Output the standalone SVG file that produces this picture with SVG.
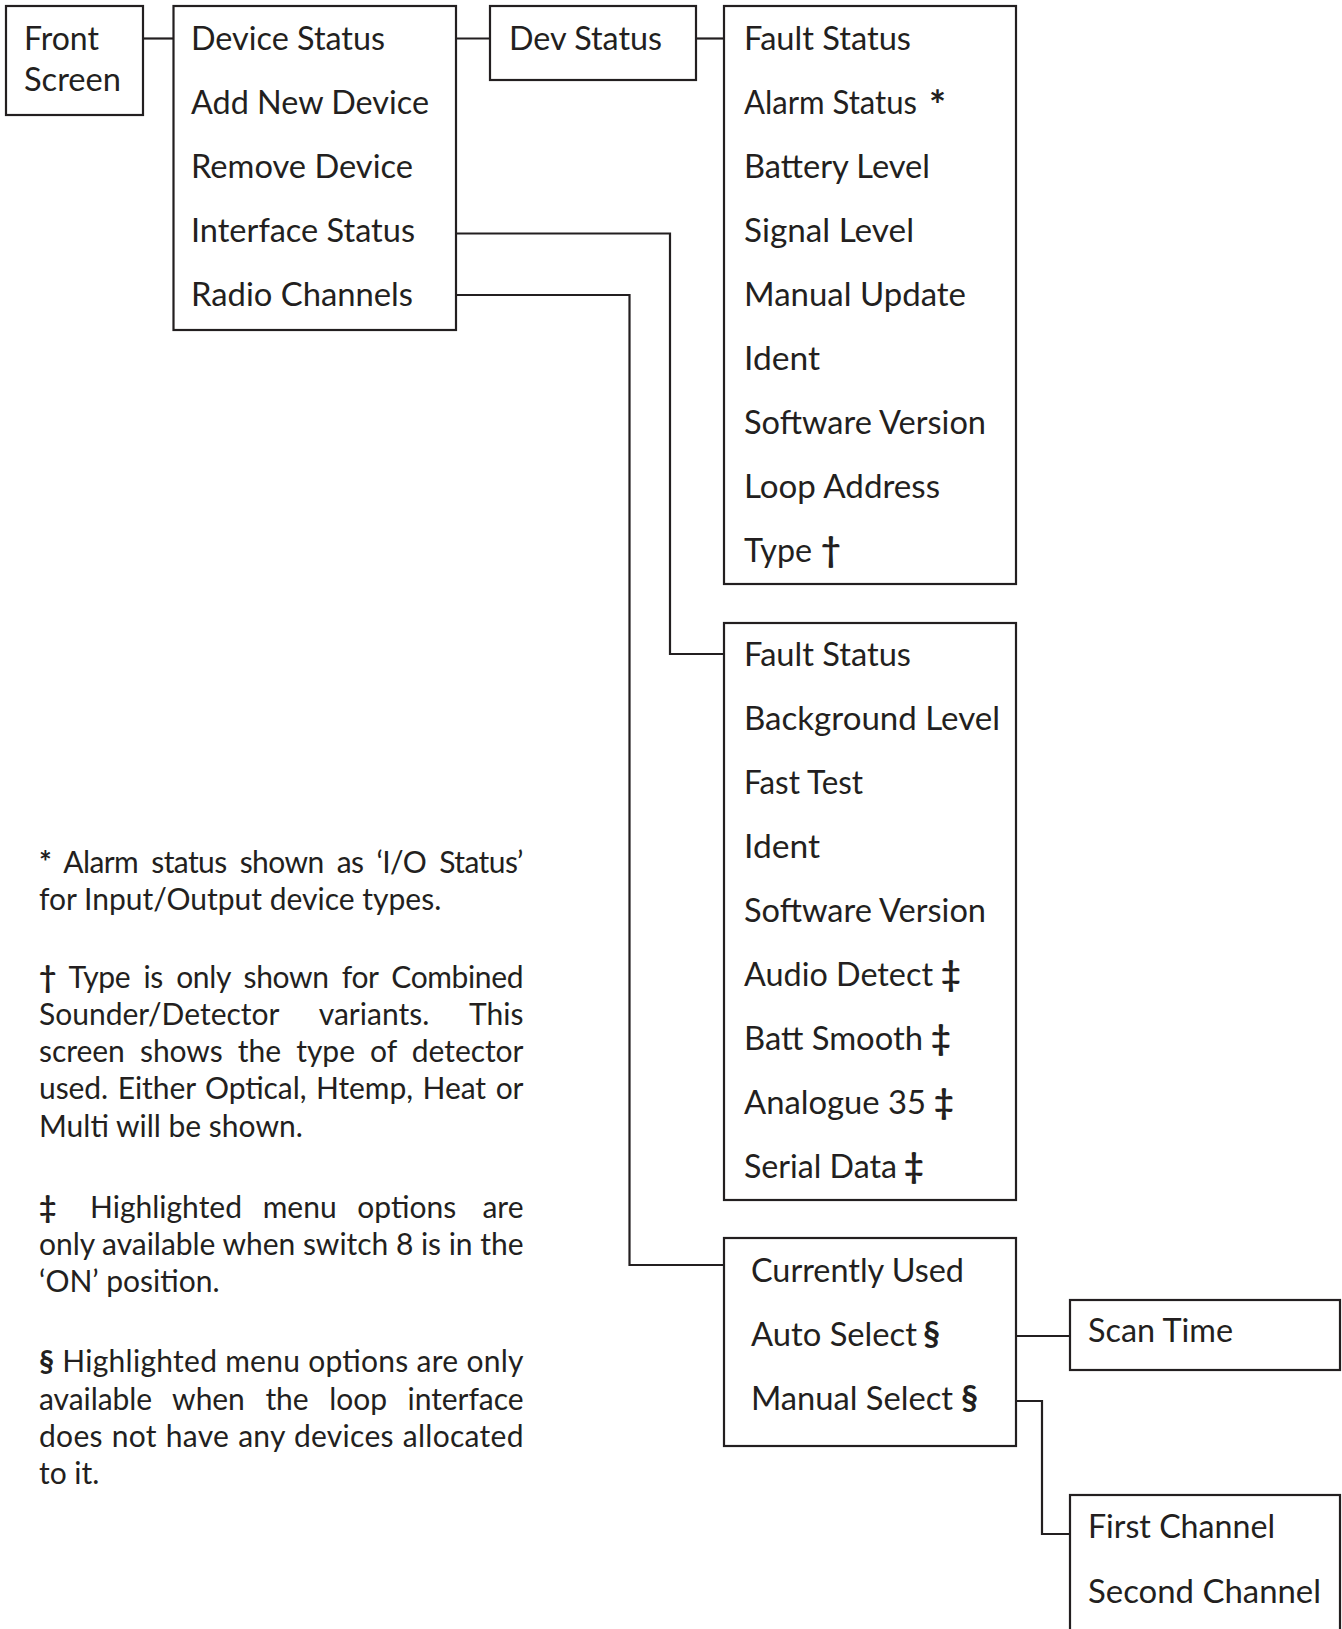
<svg xmlns="http://www.w3.org/2000/svg" width="1342" height="1629" viewBox="0 0 1342 1629">
<style>
.box{fill:#fff;stroke:#231f20;stroke-width:2.2}
.ln{fill:none;stroke:#231f20;stroke-width:2.2}
text{font-family:Lato,"Open Sans","Liberation Sans",sans-serif;fill:#231f20}
.t{font-size:33px}
.c{font-size:33px}
.s{font-size:34px;font-weight:bold}
.n{font-size:30px}
.b{font-weight:bold}
.e{text-anchor:end}
</style>
<rect width="1342" height="1629" fill="#fff"/>
<g id="connectors">
<path class="ln" d="M143 38.5H173.5"/>
<path class="ln" d="M456 38.5H490"/>
<path class="ln" d="M696 38.5H724"/>
<path class="ln" d="M456 233.5H670V654H724"/>
<path class="ln" d="M456 295H629.5V1265H724"/>
<path class="ln" d="M1016 1336H1070"/>
<path class="ln" d="M1016 1401H1042V1534H1070"/>
</g>
<g id="front-screen">
<rect class="box" x="6" y="6" width="137" height="109"/>
<text class="c" x="24" y="50" textLength="75" lengthAdjust="spacingAndGlyphs">Front</text>
<text class="c" x="24" y="91" textLength="97" lengthAdjust="spacingAndGlyphs">Screen</text>
</g>
<g id="main-menu">
<rect class="box" x="173.5" y="6" width="282.5" height="324"/>
<text class="c" x="191" y="50" textLength="194" lengthAdjust="spacingAndGlyphs">Device Status</text>
<text class="c" x="191" y="114" textLength="238" lengthAdjust="spacingAndGlyphs">Add New Device</text>
<text class="c" x="191" y="178" textLength="222" lengthAdjust="spacingAndGlyphs">Remove Device</text>
<text class="c" x="191" y="242" textLength="224" lengthAdjust="spacingAndGlyphs">Interface Status</text>
<text class="c" x="191" y="306" textLength="222" lengthAdjust="spacingAndGlyphs">Radio Channels</text>
</g>
<g id="dev-status">
<rect class="box" x="490" y="6" width="206" height="74"/>
<text class="c" x="509" y="50" textLength="153" lengthAdjust="spacingAndGlyphs">Dev Status</text>
</g>
<g id="dev-status-menu">
<rect class="box" x="724" y="6" width="292" height="578"/>
<text class="t" x="744" y="50" textLength="167" lengthAdjust="spacingAndGlyphs">Fault Status</text>
<text class="t" x="744" y="114" textLength="173" lengthAdjust="spacingAndGlyphs">Alarm Status</text>
<text class="s" x="929" y="120" style="font-size:40px">*</text>
<text class="t" x="744" y="178" textLength="186" lengthAdjust="spacingAndGlyphs">Battery Level</text>
<text class="t" x="744" y="242" textLength="170" lengthAdjust="spacingAndGlyphs">Signal Level</text>
<text class="t" x="744" y="306" textLength="222" lengthAdjust="spacingAndGlyphs">Manual Update</text>
<text class="t" x="744" y="370" textLength="76" lengthAdjust="spacingAndGlyphs">Ident</text>
<text class="t" x="744" y="434" textLength="242" lengthAdjust="spacingAndGlyphs">Software Version</text>
<text class="t" x="744" y="498" textLength="196" lengthAdjust="spacingAndGlyphs">Loop Address</text>
<text class="t" x="744" y="562" textLength="68" lengthAdjust="spacingAndGlyphs">Type</text>
<text class="s" x="821" y="562">†</text>
</g>
<g id="interface-status-menu">
<rect class="box" x="724" y="623" width="292" height="577"/>
<text class="t" x="744" y="666" textLength="167" lengthAdjust="spacingAndGlyphs">Fault Status</text>
<text class="t" x="744" y="730" textLength="256" lengthAdjust="spacingAndGlyphs">Background Level</text>
<text class="t" x="744" y="794" textLength="119" lengthAdjust="spacingAndGlyphs">Fast Test</text>
<text class="t" x="744" y="858" textLength="76" lengthAdjust="spacingAndGlyphs">Ident</text>
<text class="t" x="744" y="922" textLength="242" lengthAdjust="spacingAndGlyphs">Software Version</text>
<text class="t" x="744" y="986" textLength="189" lengthAdjust="spacingAndGlyphs">Audio Detect</text>
<text class="s" x="941" y="986">‡</text>
<text class="t" x="744" y="1050" textLength="179" lengthAdjust="spacingAndGlyphs">Batt Smooth</text>
<text class="s" x="931" y="1050">‡</text>
<text class="t" x="744" y="1114" textLength="182" lengthAdjust="spacingAndGlyphs">Analogue 35</text>
<text class="s" x="934" y="1114">‡</text>
<text class="t" x="744" y="1178" textLength="153" lengthAdjust="spacingAndGlyphs">Serial Data</text>
<text class="s" x="904" y="1178">‡</text>
</g>
<g id="radio-channels-menu">
<rect class="box" x="724" y="1238" width="292" height="208"/>
<text class="c" x="751" y="1282" textLength="213" lengthAdjust="spacingAndGlyphs">Currently Used</text>
<text class="c" x="751" y="1346" textLength="166" lengthAdjust="spacingAndGlyphs">Auto Select</text>
<text class="s" x="923" y="1346">§</text>
<text class="c" x="751" y="1410" textLength="202" lengthAdjust="spacingAndGlyphs">Manual Select</text>
<text class="s" x="961" y="1410">§</text>
</g>
<g id="scan-time">
<rect class="box" x="1070" y="1300" width="270" height="70"/>
<text class="c" x="1088" y="1342" textLength="145" lengthAdjust="spacingAndGlyphs">Scan Time</text>
</g>
<g id="channel-select">
<rect class="box" x="1070" y="1495" width="270" height="150"/>
<text class="c" x="1088" y="1538" textLength="187" lengthAdjust="spacingAndGlyphs">First Channel</text>
<text class="c" x="1088" y="1603" textLength="233" lengthAdjust="spacingAndGlyphs">Second Channel</text>
</g>
<g id="notes">
<text class="n" x="39" y="873" word-spacing="6" textLength="484.5" lengthAdjust="spacing"><tspan class="b">*</tspan> Alarm status shown as ‘I/O Status’</text>
<text class="n" x="39" y="910">for Input/Output device types.</text>
<text class="n" x="39" y="988" word-spacing="6" textLength="484.5" lengthAdjust="spacing"><tspan class="b">†</tspan> Type is only shown for Combined</text>
<text class="n" x="39" y="1025" word-spacing="33" textLength="484.5" lengthAdjust="spacing">Sounder/Detector variants. This</text>
<text class="n" x="39" y="1062" word-spacing="7.5" textLength="484.5" lengthAdjust="spacing">screen shows the type of detector</text>
<text class="n" x="39" y="1099" word-spacing="2" textLength="484.5" lengthAdjust="spacing">used. Either Optical, Htemp, Heat or</text>
<text class="n" x="39" y="1137">Multi will be shown.</text>
<text class="n" y="1218"><tspan x="39" class="b">‡ </tspan><tspan x="90" word-spacing="13">Highlighted menu options </tspan><tspan x="523.5" class="e">are</tspan></text>
<text class="n" x="39" y="1255" textLength="484.5" lengthAdjust="spacing">only available when switch 8 is in the</text>
<text class="n" x="39" y="1292">‘ON’ position.</text>
<text class="n" x="39" y="1372" textLength="484.5" lengthAdjust="spacing"><tspan class="b">§</tspan> Highlighted menu options are only</text>
<text class="n" x="39" y="1410" word-spacing="13" textLength="484.5" lengthAdjust="spacing">available when the loop interface</text>
<text class="n" x="39" y="1447" word-spacing="1" textLength="484.5" lengthAdjust="spacing">does not have any devices allocated</text>
<text class="n" x="39" y="1484">to it.</text>
</g>
</svg>
